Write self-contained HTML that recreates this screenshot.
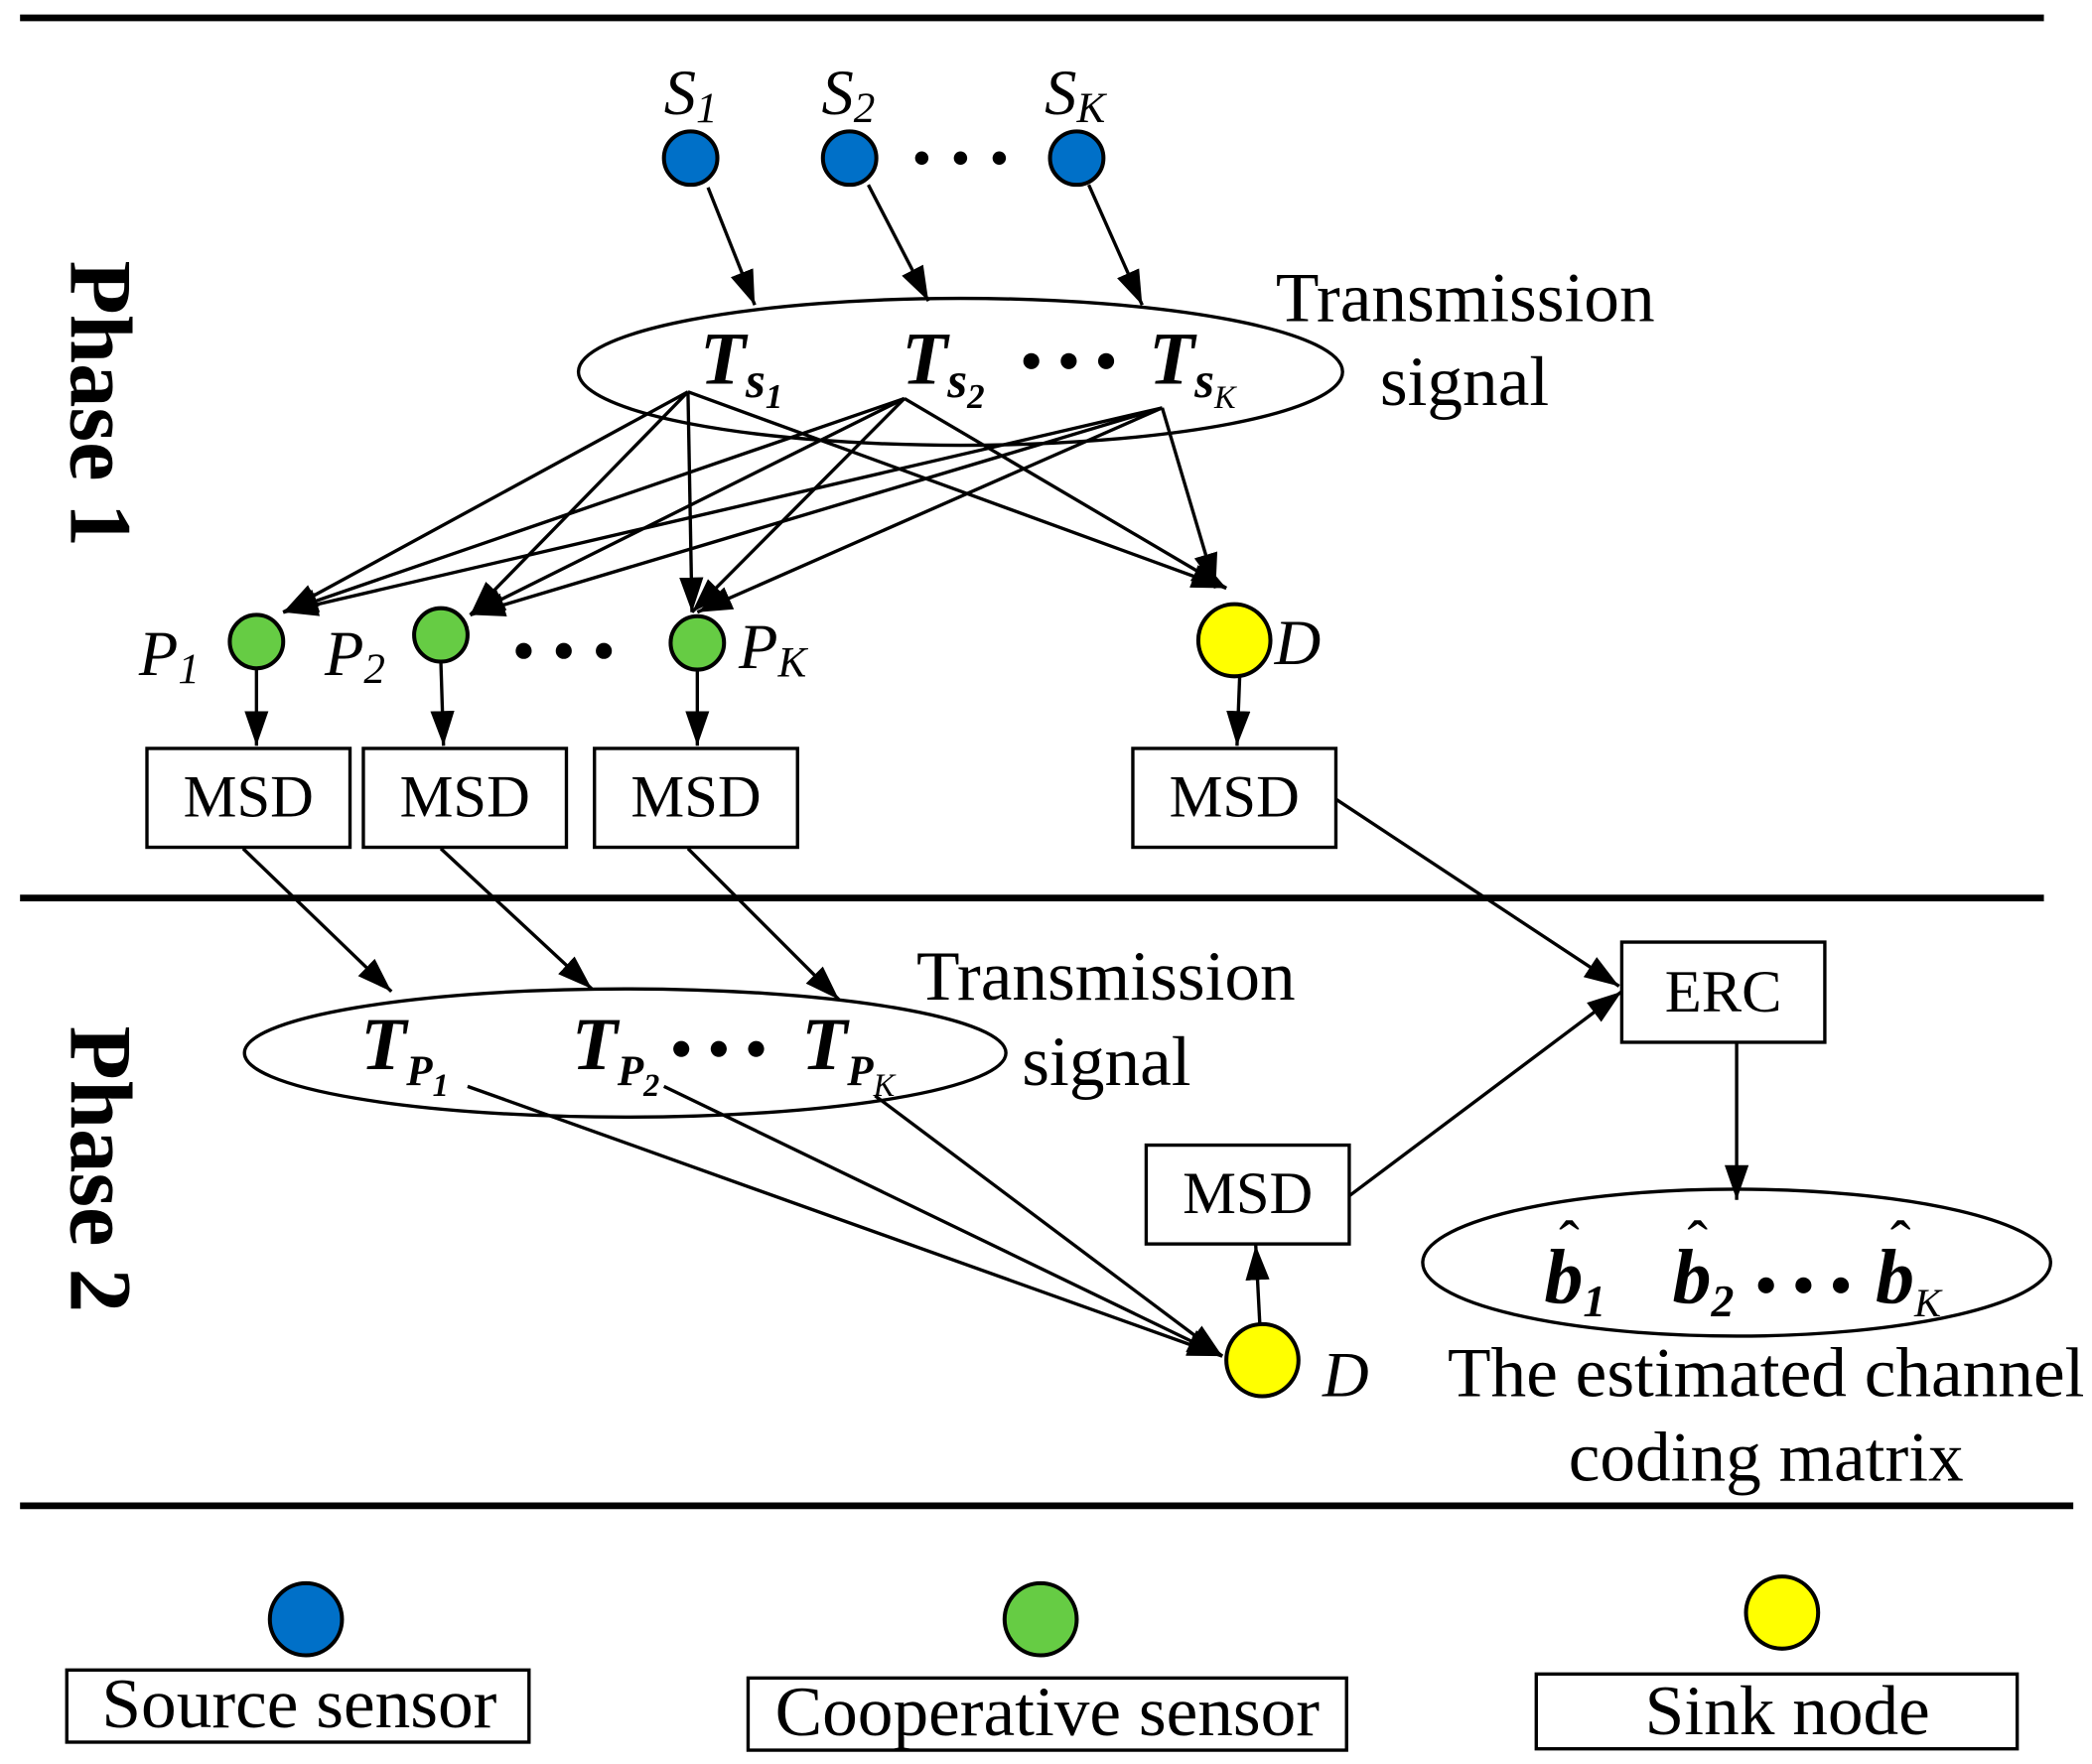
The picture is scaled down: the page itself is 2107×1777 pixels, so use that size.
<!DOCTYPE html>
<html><head><meta charset="utf-8"><style>
html,body{margin:0;padding:0;background:#fff;}
svg{display:block;}
text{font-family:"Liberation Serif",serif;fill:#000;}
.it{font-style:italic;}
.bi{font-style:italic;font-weight:bold;}
</style></head><body>
<svg width="2107" height="1777" viewBox="0 0 1566 1320" xmlns="http://www.w3.org/2000/svg">
<defs>
<marker id="m" viewBox="-26 -10 28 20" refX="0" refY="0" markerWidth="28" markerHeight="20" markerUnits="userSpaceOnUse" orient="auto">
<path d="M-26,-9 L0,0 L-26,9 Z" fill="#000"/>
</marker>
</defs>
<g stroke="#000" stroke-width="5">
<line x1="15" y1="13" x2="1530" y2="13"/>
<line x1="15" y1="672" x2="1530" y2="672"/>
<line x1="15" y1="1127" x2="1552" y2="1127"/>
</g>
<text transform="translate(53,302) rotate(90)" font-size="66" font-weight="bold" text-anchor="middle">Phase 1</text>
<text transform="translate(53,875) rotate(90)" font-size="66" font-weight="bold" text-anchor="middle">Phase 2</text>

<g stroke="#000" stroke-width="2.5" fill="none">
<ellipse cx="719" cy="278" rx="286" ry="55"/>
<ellipse cx="468" cy="788" rx="285" ry="48"/>
<ellipse cx="1300" cy="945" rx="235" ry="55"/>
<rect x="110" y="560" width="152" height="74"/>
<rect x="272" y="560" width="152" height="74"/>
<rect x="445" y="560" width="152" height="74"/>
<rect x="848" y="560" width="152" height="74"/>
<rect x="1214" y="705" width="152" height="75"/>
<rect x="858" y="857" width="152" height="74"/>
<rect x="50" y="1250" width="346" height="54"/>
<rect x="560" y="1256" width="448" height="54"/>
<rect x="1150" y="1253" width="360" height="56"/>
</g>

<g stroke="#000" stroke-width="2.5" fill="none" marker-end="url(#m)">
<line x1="530" y1="140" x2="565" y2="228"/>
<line x1="650" y1="138" x2="695" y2="225"/>
<line x1="815" y1="138" x2="855" y2="228"/>
<line x1="515" y1="293" x2="212" y2="458"/>
<line x1="515" y1="293" x2="352" y2="460"/>
<line x1="515" y1="293" x2="518" y2="458"/>
<line x1="515" y1="293" x2="918" y2="440"/>
<line x1="677" y1="298" x2="212" y2="458"/>
<line x1="677" y1="298" x2="352" y2="460"/>
<line x1="677" y1="298" x2="518" y2="458"/>
<line x1="677" y1="298" x2="918" y2="440"/>
<line x1="870" y1="305" x2="212" y2="458"/>
<line x1="870" y1="305" x2="352" y2="460"/>
<line x1="870" y1="305" x2="522" y2="458"/>
<line x1="870" y1="305" x2="910" y2="440"/>
<line x1="192" y1="500" x2="192" y2="558"/>
<line x1="330" y1="495" x2="332" y2="558"/>
<line x1="522" y1="501" x2="522" y2="558"/>
<line x1="928" y1="506" x2="926" y2="558"/>
<line x1="182" y1="635" x2="293" y2="742"/>
<line x1="330" y1="635" x2="443" y2="740"/>
<line x1="515" y1="635" x2="628" y2="748"/>
<line x1="1000" y1="598" x2="1212" y2="738"/>
<line x1="350" y1="813" x2="915" y2="1015"/>
<line x1="497" y1="813" x2="915" y2="1015"/>
<line x1="655" y1="820" x2="915" y2="1015"/>
<line x1="943" y1="990" x2="940" y2="932"/>
<line x1="1010" y1="895" x2="1214" y2="742"/>
<line x1="1300" y1="780" x2="1300" y2="898"/>
</g>

<g stroke="#000" stroke-width="3">
<circle cx="517" cy="118" r="20" fill="#0070c8"/>
<circle cx="636" cy="118" r="20" fill="#0070c8"/>
<circle cx="806" cy="118" r="20" fill="#0070c8"/>
<circle cx="192" cy="480" r="20" fill="#66cc44"/>
<circle cx="330" cy="475" r="20" fill="#66cc44"/>
<circle cx="522" cy="481" r="20" fill="#66cc44"/>
<circle cx="924" cy="479" r="27" fill="#ffff00"/>
<circle cx="945" cy="1018" r="27" fill="#ffff00"/>
<circle cx="229" cy="1212" r="27" fill="#0070c8"/>
<circle cx="779" cy="1212" r="27" fill="#66cc44"/>
<circle cx="1334" cy="1207" r="27" fill="#ffff00"/>
</g>
<g fill="#000">
<circle cx="690" cy="118" r="5"/><circle cx="719" cy="118" r="5"/><circle cx="748" cy="118" r="5"/>
<circle cx="772" cy="270" r="6"/><circle cx="800" cy="270" r="6"/><circle cx="828" cy="270" r="6"/>
<circle cx="392" cy="487" r="6"/><circle cx="422" cy="487" r="6"/><circle cx="452" cy="487" r="6"/>
<circle cx="510" cy="785" r="6"/><circle cx="538" cy="785" r="6"/><circle cx="566" cy="785" r="6"/>
<circle cx="1322" cy="962" r="6"/><circle cx="1350" cy="962" r="6"/><circle cx="1378" cy="962" r="6"/>
</g>

<text x="497" y="85" font-size="48" class="it">S<tspan font-size="32" dy="6">1</tspan></text>
<text x="615" y="85" font-size="48" class="it">S<tspan font-size="32" dy="6">2</tspan></text>
<text x="782" y="85" font-size="48" class="it">S<tspan font-size="32" dy="6">K</tspan></text>
<text x="524" y="287" font-size="56" class="bi">T<tspan font-size="38" dy="10">s</tspan><tspan font-size="26" dy="8">1</tspan></text>
<text x="675" y="287" font-size="56" class="bi">T<tspan font-size="38" dy="10">s</tspan><tspan font-size="26" dy="8">2</tspan></text>
<text x="860" y="287" font-size="56" class="bi">T<tspan font-size="38" dy="10">s</tspan><tspan font-size="24" dy="8" font-weight="normal">K</tspan></text>
<text x="955" y="240" font-size="53">Transmission</text>
<text x="1033" y="303" font-size="53">signal</text>
<text x="104" y="505" font-size="48" class="it">P<tspan font-size="32" dy="6">1</tspan></text>
<text x="243" y="505" font-size="48" class="it">P<tspan font-size="32" dy="6">2</tspan></text>
<text x="553" y="500" font-size="48" class="it">P<tspan font-size="32" dy="6">K</tspan></text>
<text x="954" y="497" font-size="48" class="it">D</text>
<g font-size="45" text-anchor="middle">
<text x="186" y="611">MSD</text>
<text x="348" y="611">MSD</text>
<text x="521" y="611">MSD</text>
<text x="924" y="611">MSD</text>
<text x="934" y="908">MSD</text>
<text x="1290" y="757">ERC</text>
</g>
<text x="270" y="800" font-size="56" class="bi">T<tspan font-size="32" dy="12">P</tspan><tspan font-size="24" dy="8">1</tspan></text>
<text x="428" y="800" font-size="56" class="bi">T<tspan font-size="32" dy="12">P</tspan><tspan font-size="24" dy="8">2</tspan></text>
<text x="600" y="800" font-size="56" class="bi">T<tspan font-size="32" dy="12">P</tspan><tspan font-size="24" dy="8" font-weight="normal">K</tspan></text>
<text x="686" y="748" font-size="53">Transmission</text>
<text x="765" y="812" font-size="53">signal</text>
<text x="990" y="1045" font-size="48" class="it">D</text>
<text x="1156" y="975" font-size="58" class="bi">b<tspan font-size="34" dy="10">1</tspan></text>
<text x="1167" y="945" font-size="46">ˆ</text>
<text x="1252" y="975" font-size="58" class="bi">b<tspan font-size="34" dy="10">2</tspan></text>
<text x="1263" y="945" font-size="46">ˆ</text>
<text x="1404" y="975" font-size="58" class="bi">b<tspan font-size="30" dy="10" font-weight="normal">K</tspan></text>
<text x="1415" y="945" font-size="46">ˆ</text>
<text x="1322" y="1045" font-size="53" text-anchor="middle">The estimated channel</text>
<text x="1322" y="1108" font-size="53" text-anchor="middle">coding matrix</text>
<text x="224" y="1293" font-size="53" text-anchor="middle">Source sensor</text>
<text x="784" y="1299" font-size="53" text-anchor="middle">Cooperative sensor</text>
<text x="1338" y="1298" font-size="53" text-anchor="middle">Sink node</text>
</svg>
</body></html>
